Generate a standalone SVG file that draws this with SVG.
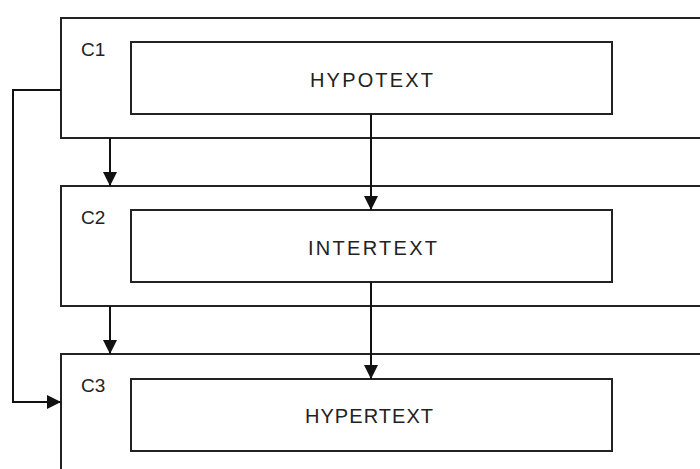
<svg xmlns="http://www.w3.org/2000/svg" width="700" height="469" viewBox="0 0 700 469">
<defs>
<style>
.outer{fill:#fff;stroke:#222;stroke-width:2}
.inner{fill:#fff;stroke:#222;stroke-width:2}
.lbl{font-family:"Liberation Sans",Arial,sans-serif;font-size:19px;fill:#222}
.txt{font-family:"Liberation Sans",Arial,sans-serif;font-size:20px;fill:#222}
.conn{fill:none;stroke:#111;stroke-width:2}
</style>
<marker id="ah" viewBox="0 0 14 14" refX="14" refY="7" markerWidth="14" markerHeight="14" markerUnits="userSpaceOnUse" orient="auto">
<path d="M0,0 L14,7 L0,14 Z" fill="#111"/>
</marker>
</defs>
<rect width="700" height="469" fill="#fff"/>
<g id="C1">
<rect class="outer" x="61" y="18" width="660" height="120"/>
<text class="lbl" x="81" y="56">C1</text>
<g id="hypotext">
<rect class="inner" x="131" y="42" width="481" height="72"/>
<text class="txt" x="310" y="87" textLength="123" lengthAdjust="spacing">HYPOTEXT</text>
</g>
</g>
<g id="C2">
<rect class="outer" x="61" y="186" width="660" height="120"/>
<text class="lbl" x="81" y="224">C2</text>
<g id="intertext">
<rect class="inner" x="131" y="210" width="481" height="72"/>
<text class="txt" x="308" y="255" textLength="129" lengthAdjust="spacing">INTERTEXT</text>
</g>
</g>
<g id="C3">
<rect class="outer" x="61" y="354" width="660" height="140"/>
<text class="lbl" x="81" y="392">C3</text>
<g id="hypertext">
<rect class="inner" x="131" y="379" width="481" height="72"/>
<text class="txt" x="305" y="423" textLength="128" lengthAdjust="spacing">HYPERTEXT</text>
</g>
</g>
<g id="connectors">
<path class="conn" d="M110,138 V186" marker-end="url(#ah)"/>
<path class="conn" d="M110,306 V354" marker-end="url(#ah)"/>
<path class="conn" d="M371,114 V210" marker-end="url(#ah)"/>
<path class="conn" d="M371,282 V379" marker-end="url(#ah)"/>
<path class="conn" d="M61,90 H13 V402 H61" marker-end="url(#ah)"/>
</g>
</svg>
